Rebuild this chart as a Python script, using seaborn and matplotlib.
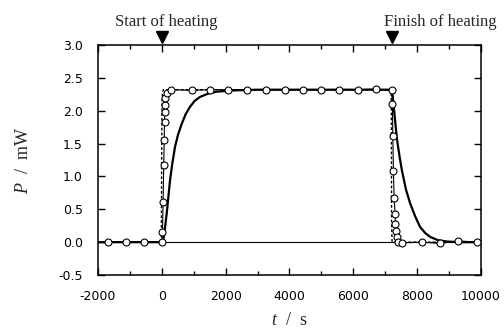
import numpy as np
import pandas as pd
import matplotlib
matplotlib.use("Agg")
import matplotlib.pyplot as plt
from matplotlib.ticker import MultipleLocator
import seaborn as sns

# Heating period (s)
heat_on = 0
heat_off = 7200

# Measured power (open circles)
t_obs = [-1700, -1130, -560, 0, 20, 40, 60, 75, 85, 92, 98, 105, 150, 280,
         937, 1511, 2084, 2661, 3257, 3862, 4436, 4991, 5564, 6141, 6715, 7207,
         7226, 7238, 7257, 7279, 7310, 7320, 7332, 7364, 7414, 7539,
         8166, 8721, 9295, 9871]
P_obs = [0.0, 0.0, 0.0, 0.0, 0.15, 0.61, 1.17, 1.55, 1.83, 1.98, 2.08, 2.19, 2.27, 2.32,
         2.31, 2.32, 2.32, 2.32, 2.32, 2.32, 2.32, 2.32, 2.32, 2.32, 2.33, 2.31,
         2.10, 1.62, 1.08, 0.67, 0.43, 0.27, 0.17, 0.08, 0.0, -0.01,
         0.0, -0.02, 0.02, 0.0]

# Heater input (dashed step)
t_in = [-2000, -15, -5, 5, 20, 50, 100, 7185, 7192, 7200, 7215, 10000]
P_in = [0.0, 0.0, 1.2, 2.1, 2.28, 2.32, 2.32, 2.32, 2.0, 0.3, 0.0, 0.0]

# Raw calorimeter output (thick solid)
t_raw = [-2000, -1000, 0, 30, 60, 100, 154, 200, 257, 330, 414, 510, 624, 750,
         884, 1030, 1197, 1450, 1721, 2000, 2300, 3000, 5000, 7200,
         7230, 7270, 7320, 7364, 7450, 7520, 7650, 7781, 7950, 8094,
         8250, 8407, 8650, 8930, 9300, 10000]
P_raw = [0.0, 0.0, 0.0, 0.0, 0.08, 0.22, 0.44, 0.66, 0.94, 1.20, 1.45, 1.64, 1.80, 1.95,
         2.06, 2.15, 2.21, 2.26, 2.29, 2.30, 2.31, 2.32, 2.32, 2.32,
         2.25, 2.05, 1.80, 1.58, 1.30, 1.10, 0.80, 0.59, 0.38, 0.23,
         0.14, 0.08, 0.03, 0.01, 0.0, 0.0]

x_ticks = [-2000, 0, 2000, 4000, 6000, 8000, 10000]
y_ticks = [-0.5, 0.0, 0.5, 1.0, 1.5, 2.0, 2.5, 3.0]

df_obs = pd.DataFrame({"t": t_obs, "P": P_obs})
df_in = pd.DataFrame({"t": t_in, "P": P_in})
df_raw = pd.DataFrame({"t": t_raw, "P": P_raw})

sns.set_style("ticks")
plt.rcParams["font.family"] = ["DejaVu Sans"]
plt.rcParams["mathtext.fontset"] = "custom"
plt.rcParams["mathtext.it"] = "Liberation Serif:italic"
plt.rcParams["mathtext.rm"] = "Liberation Serif"

fig = plt.figure(figsize=(5.04, 3.29), dpi=100)
ax = fig.add_axes([0.1944, 0.1641, 0.7599, 0.6991])

ax.axhline(0, color="black", lw=0.8, zorder=1)

sns.lineplot(data=df_raw, x="t", y="P", ax=ax, color="black", lw=1.6,
             estimator=None, sort=False, zorder=2)
sns.lineplot(data=df_in, x="t", y="P", ax=ax, color="black", lw=1.0,
             linestyle=(0, (2, 1.5)), estimator=None, sort=False, zorder=3)
sns.lineplot(data=df_obs, x="t", y="P", ax=ax, color="black", lw=0.8,
             marker="o", markersize=5, markerfacecolor="white",
             markeredgecolor="black", markeredgewidth=0.8,
             estimator=None, sort=False, zorder=4)

ax.set_xlim(-2000, 10000)
ax.set_ylim(-0.5, 3.0)
ax.set_xticks(x_ticks)
ax.set_yticks(y_ticks)
ax.set_xticklabels([str(v) for v in x_ticks])
ax.set_yticklabels([f"{v:.1f}" for v in y_ticks])
ax.xaxis.set_minor_locator(MultipleLocator(1000))

ax.tick_params(which="both", direction="in", top=True, right=True,
               colors="black", width=1.0, labelsize=9)
ax.tick_params(which="major", length=5, pad=11)
ax.tick_params(which="minor", length=3)
for s in ax.spines.values():
    s.set_visible(True)
    s.set_linewidth(1.1)
    s.set_color("black")

ax.set_xlabel(r"$t$  /  s", fontsize=13, family="Liberation Serif", labelpad=6)
ax.set_ylabel(r"$P$  /  mW", fontsize=13, family="Liberation Serif", labelpad=19)

# Heating markers above the frame
for tx in (heat_on, heat_off):
    ax.plot([tx], [3.12], marker="v", color="black", markersize=8,
            clip_on=False, zorder=5)
ax.text(heat_on - 1470, 3.23, "Start of heating", family="Liberation Serif",
        fontsize=12, ha="left", va="bottom")
ax.text(heat_off - 250, 3.23, "Finish of heating", family="Liberation Serif",
        fontsize=12, ha="left", va="bottom")

fig.savefig("out.png", dpi=100)
